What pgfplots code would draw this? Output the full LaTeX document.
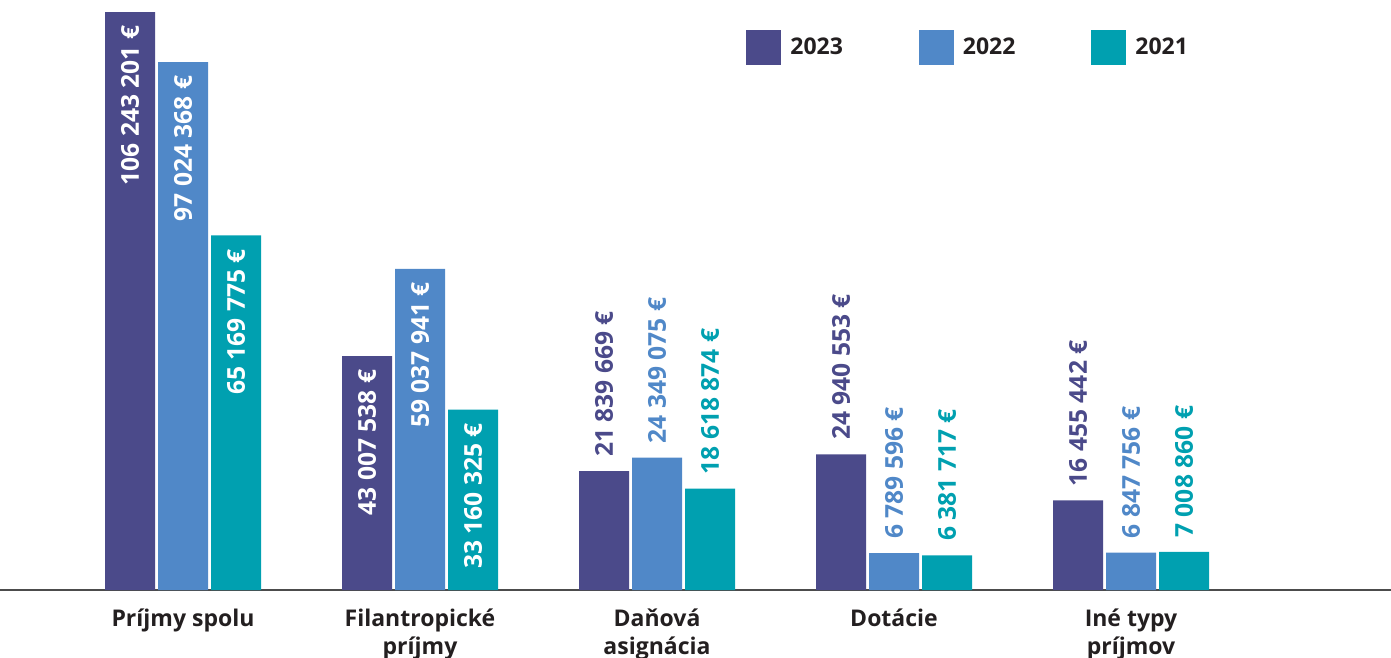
\documentclass[border=0pt]{standalone}
\usepackage{pgfplots}
\pgfplotsset{compat=1.18}
\usepackage{pgfplotstable}
\usepackage{fontspec}
\setmainfont{Open Sans}

\definecolor{c2023}{HTML}{4B4A8A}
\definecolor{c2022}{HTML}{5088C8}
\definecolor{c2021}{HTML}{00A0B0}
\definecolor{txt}{HTML}{231F20}

% label set inside the bar, in white, ending 7pt below the bar's top
\newcommand\inl[1]{\makebox[0pt][r]{\textcolor{white}{#1}\hspace{14pt}}}

% values in EUR, labels as printed
\pgfplotstableread[col sep=comma]{
x,y,label
0,106243201,\inl{106 243 201 €}
1,43007538,\inl{43 007 538 €}
2,21839669,21 839 669 €
3,24940553,24 940 553 €
4,16455442,16 455 442 €
}\dataA
\pgfplotstableread[col sep=comma]{
x,y,label
0,97024368,\inl{97 024 368 €}
1,59037941,\inl{59 037 941 €}
2,24349075,24 349 075 €
3,6789596,6 789 596 €
4,6847756,6 847 756 €
}\dataB
\pgfplotstableread[col sep=comma]{
x,y,label
0,65169775,\inl{65 169 775 €}
1,33160325,\inl{33 160 325 €}
2,18618874,18 618 874 €
3,6381717,6 381 717 €
4,7008860,7 008 860 €
}\dataC

\begin{document}
\begin{tikzpicture}
\begin{axis}[
  name=ax,
  scale only axis,
  width=695.5pt, height=295pt,
  ymin=0, ymax=108450000,
  xmin=-0.7722, xmax=5.0970,
  ybar=1.5pt, bar width=25pt,
  axis y line=none,
  axis x line*=bottom,
  x axis line style={draw=black!70, line width=0.6pt, -},
  xtick={0,1,2,3,4},
  xticklabels={Príjmy spolu, {Filantropické\\príjmy}, {Daňová\\asignácia}, Dotácie, {Iné typy\\príjmov}},
  xticklabel style={align=center, font=\bfseries\fontsize{11.5}{14}\selectfont, text=txt, yshift=-6pt},
  major tick length=0pt,
  point meta=explicit symbolic,
  nodes near coords,
  nodes near coords style={rotate=90, anchor=west, font=\bfseries\fontsize{12.3}{14}\selectfont, inner ysep=0pt, inner xsep=7pt},
  legend columns=3,
  legend style={at={(rel axis cs:0.5363,0.949)}, anchor=north west, draw=none, fill=none, inner sep=0pt,
    font=\bfseries\fontsize{11.5}{14}\selectfont, text=txt,
    /tikz/every even column/.append style={column sep=36pt},
    cells={anchor=west}},
  legend image code/.code={\fill[#1] (0pt,-8.75pt) rectangle (17.5pt,8.75pt); \path (20pt,0pt);},
]
\addplot[fill=c2023, draw=none, every node near coord/.append style={text=c2023}] table[x=x, y=y, meta=label] {\dataA};
\addplot[fill=c2022, draw=none, every node near coord/.append style={text=c2022}] table[x=x, y=y, meta=label] {\dataB};
\addplot[fill=c2021, draw=none, every node near coord/.append style={text=c2021}] table[x=x, y=y, meta=label] {\dataC};
\legend{2023, 2022, 2021}
\end{axis}
\pgfresetboundingbox
\path[use as bounding box] (ax.south west) ++(0pt,-34pt) rectangle (ax.north east);
\end{tikzpicture}
\end{document}
